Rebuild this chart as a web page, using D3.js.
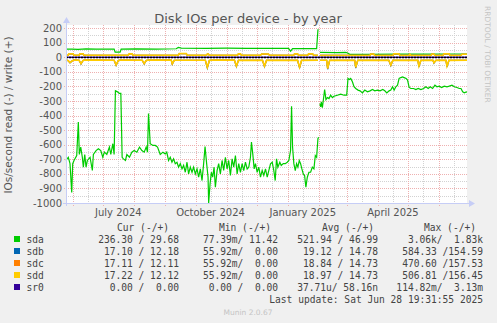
<!DOCTYPE html>
<html>
<head>
<meta charset="utf-8">
<script src="https://cdn.jsdelivr.net/npm/d3@7"></script>
<style>
  body { margin: 0; background: #f0f0f0; }
  svg { display: block; }
  text { font-family: "DejaVu Sans", sans-serif; fill: #555; }
  .mono { font-family: "DejaVu Sans Mono", monospace; white-space: pre; font-size: 9.6px; fill: #444; }
</style>
</head>
<body>
<div id="chart"></div>
<script>
// munin "by year" graph: 400 days ending at the last update
var lastUpdate = new Date(2025, 5, 28, 19, 31, 55);
var spanDays = 400;

var devices = ["sda", "sdb", "sdc", "sdd", "sr0"];
var colors = ["#00cc00", "#0066b3", "#ff8000", "#ffcc00", "#330099"];

// [day since start, IOs/s], null = no data
var sdaRead = [[0,-708],[2.3,-686],[4,-730],[5.7,-927],[6.7,-730],[8,-708],[10.7,-674],[12.3,-444],[13.3,-667],
  [14.7,-616],[16.3,-686],[17.3,-754],[18.7,-667],[20,-754],[21.3,-708],[24,-686],[26.3,-777],[27.3,-667],
  [30,-640],[32.3,-628],[34.7,-640],[36.7,-686],[38.3,-651],[40.7,-667],[43.3,-616],[44.7,-667],[46.7,-593],
  [48,-667],[49.3,-230],[51.3,-237],[53.3,-248],[54.7,-248],[56,-686],[57.3,-697],[59.3,-708],[60.7,-667],
  [63.3,-686],[65.7,-651],[68,-640],[70.7,-651],[73.3,-616],[75.7,-640],[78,-651],[80,-616],[81.3,-651],
  [82.3,-386],[84,-593],[86.7,-605],[89,-605],[91.3,-616],[94,-667],[96.7,-651],[99,-663],[100.5,-651],
  [102.3,-708],[104,-686],[105.7,-720],[107.3,-697],[109,-730],[110.7,-720],[112.3,-754],[114,-730],
  [115.7,-766],[117.3,-742],[119,-789],[120.7,-720],[122.3,-800],[124,-754],[125.7,-789],[127.3,-754],
  [129,-800],[130.7,-766],[132.3,-823],[134,-766],[135.7,-846],[137.3,-730],[138.7,-612],[140.3,-730],
  [141.7,-823],[142.3,-1000],[143.7,-869],[145,-789],[146.3,-823],[147.7,-754],[149,-892],[150.7,-777],
  [152.3,-730],[154,-800],[155.7,-708],[157.3,-777],[159,-686],[160.7,-766],[162.3,-708],[164,-811],
  [165.7,-697],[167.3,-754],[169,-674],[170.7,-800],[172.3,-730],[174,-789],[175.7,-730],[177.3,-777],
  [179,-720],[180.7,-766],[182.3,-754],[184,-686],[185,-582],[186.3,-663],[187.7,-766],[189,-730],
  [190.7,-789],[192.3,-754],[194,-823],[195.7,-777],[197.3,-811],[199,-766],[200.7,-823],[202.3,-777],
  [204,-731],[205.7,-720],[207.3,-777],[208.7,-846],[210,-697],[211.3,-754],[213.3,-720],[214.7,-742],
  [216.7,-730],[218.7,-730],[220.7,-720],[222.3,-708],[224,-640],[225,-336],[226,-616],[227.3,-730],
  [228.7,-777],[230,-730],[231.3,-754],[232.7,-708],[234,-730],[235.3,-766],[236.7,-800],[238,-811],
  [239.3,-892],[240.7,-823],[242.3,-789],[244,-789],[245.7,-754],[247.3,-766],[248.7,-674],[250,-686],
  [251.3,-559],[252,-548],[252.6,null],[253.3,-317],[254,-340],[254.7,-306],[255.7,-345],[256.7,-294],
  [258,-221],[259.3,-290],[260.7,-276],[262.3,-283],[264,-260],[265.7,-276],[267.3,-267],[270.7,-260],
  [274,-253],[277.3,-260],[280,-260],[281.3,-145],[282.7,-152],[284,-145],[285.7,-168],[287.3,-202],
  [289,-214],[291.3,-225],[293.3,-230],[295.7,-244],[298,-225],[300.7,-237],[303.3,-230],[305.7,-221],
  [308,-230],[310.7,-225],[313.3,-230],[316,-221],[318,-230],[320,-244],[322.3,-230],[324,-225],
  [325.7,-202],[327.3,-225],[329,-202],[330.7,-191],[332.3,-145],[334,-139],[335.7,-134],[337.3,-139],
  [339.3,-145],[340.7,-156],[342.3,-207],[344,-214],[346.7,-214],[349,-221],[351.3,-214],[354,-221],
  [356.7,-214],[359,-202],[361.3,-214],[363.3,-202],[365.7,-214],[368,-191],[370,-202],[372.3,-198],
  [374.7,-207],[377.3,-198],[380,-202],[382.3,-198],[385,-191],[387.3,-202],[390,-207],[392.3,-214],
  [394,-214],[395.7,-237],[397.3,-244],[399.3,-237],[400,-240]];
var sdaWrite = [[0,56],[6,57],[12,55],[20,58],[30,57],[40,56],[48,57],[49,36],[54,36],[55,56],[70,58],
  [90,57],[110,59],[112,68],[115,63],[140,62],[160,63],[180,62],[200,62],[222,61],[224,42],[226,60],
  [250,60],[251.3,188],[252,188],[252.6,null],[253.3,34],[270,33],[279,34],[281,30],[283,21],[300,21],
  [330,22],[360,22],[380,23],[400,23]];
var sdbRead = [[0,-18],[2,-22],[4,-38],[6,-25],[8,-18],[13,-20],[15,-46],[17,-22],[19,-18],[48,-20],
  [50,-56],[52,-24],[54,-19],[76,-20],[78,-46],[80,-22],[82,-19],[105,-19],[106,-48],[108,-20],[139,-20],
  [141,-74],[143,-22],[145,-19],[168,-19],[170,-64],[172,-21],[196,-20],[198,-65],[200,-21],[231,-20],
  [233,-74],[235,-21],[251.3,-20],[252.6,null],[253.3,-20],[260,-20],[261,-82],[263,-21],[288,-20],
  [289,-74],[291,-21],[322,-20],[324,-58],[326,-21],[351,-20],[352,-66],[354,-21],[366,-20],[367,-40],
  [369,-21],[379,-20],[380,-66],[382,-21],[400,-20]];
var sdbWrite = [[0,14],[2,14],[3,24],[7,24],[8,14],[13,14],[14,24],[17,24],[18,14],[62,14],[63,23],
  [66,23],[67,14],[112,14],[113,25],[120,25],[121,14],[140,14],[141,22],[142,22],[143,14],[171,14],
  [172,24],[174,24],[175,14],[194,14],[195,22],[202,22],[203,14],[227,14],[228,24],[231,24],[232,14],
  [241,14],[242,24],[246,24],[247,14],[251.3,14],[252.6,null],[253.3,13],[303,13],[304,22],[307,22],
  [308,13],[326,13],[327,24],[332,24],[333,13],[342,13],[343,20],[344,13],[364,13],[365,22],[367,22],
  [368,13],[376,13],[377,24],[382,24],[383,13],[394,13],[395,21],[400,21]];
var sdcRead = [[0,-18],[2,-22],[4,-36],[6,-25],[8,-18],[13,-20],[15,-44],[17,-22],[19,-18],[48,-20],
  [50,-54],[52,-24],[54,-19],[76,-20],[78,-44],[80,-22],[82,-19],[105,-19],[106,-46],[108,-20],[139,-20],
  [141,-70],[143,-22],[145,-19],[168,-19],[170,-62],[172,-21],[196,-20],[198,-62],[200,-21],[231,-20],
  [233,-70],[235,-21],[251.3,-20],[252.6,null],[253.3,-20],[260,-20],[261,-78],[263,-21],[288,-20],
  [289,-70],[291,-21],[322,-20],[324,-55],[326,-21],[351,-20],[352,-62],[354,-21],[366,-20],[367,-38],
  [369,-21],[379,-20],[380,-62],[382,-21],[400,-20]];
var sdcWrite = sdbWrite;
var sddRead = [[0,-18],[2,-22],[4,-35],[6,-25],[8,-18],[13,-20],[15,-42],[17,-22],[19,-18],[30,-19],
  [48,-20],[50,-52],[52,-24],[54,-19],[76,-20],[78,-42],[80,-22],[82,-19],[105,-19],[106,-44],[108,-20],
  [139,-20],[141,-68],[143,-22],[145,-19],[168,-19],[170,-60],[172,-21],[196,-20],[198,-60],[200,-21],
  [231,-20],[233,-68],[235,-21],[251.3,-20],[252.6,null],[253.3,-20],[260,-20],[261,-76],[263,-21],
  [288,-20],[289,-68],[291,-21],[322,-20],[324,-53],[326,-21],[351,-20],[352,-60],[354,-21],[366,-20],
  [367,-37],[369,-21],[379,-20],[380,-60],[382,-21],[400,-20]];
var sddWrite = [[0,14],[2,14],[3,25],[7,25],[8,14],[13,14],[14,25],[17,25],[18,14],[62,14],[63,24],
  [66,24],[67,14],[112,14],[113,26],[120,26],[121,14],[140,14],[141,23],[142,23],[143,14],[171,14],
  [172,25],[174,25],[175,14],[194,14],[195,23],[202,23],[203,14],[227,14],[228,25],[231,25],[232,14],
  [241,14],[242,25],[246,25],[247,14],[251.3,14],[252.6,null],[253.3,13],[303,13],[304,23],[307,23],
  [308,13],[326,13],[327,25],[332,25],[333,13],[342,13],[343,21],[344,13],[364,13],[365,23],[367,23],
  [368,13],[376,13],[377,25],[382,25],[383,13],[394,13],[395,21],[400,21]];
var sr0Read = [[0,0],[400,0]];
var sr0Write = [[0,0],[400,0]];

var yTicks = [200, 100, 0, -100, -200, -300, -400, -500, -600, -700, -800, -900, -1000];
var xLabels = ["July 2024", "October 2024", "January 2025", "April 2025"];
var xLabelDates = [new Date(2024, 6, 16), new Date(2024, 9, 16), new Date(2025, 0, 16), new Date(2025, 3, 16)];

var legendHead = ["Cur (-/+)", "Min (-/+)", "Avg (-/+)", "Max (-/+)"];
var legendCur = ["236.30 / 29.68", "17.10 / 12.18", "17.11 / 12.11", "17.22 / 12.12", "0.00 /  0.00"];
var legendMin = ["77.39m/ 11.42", "55.92m/  0.00", "55.92m/  0.00", "55.92m/  0.00", "0.00 /  0.00"];
var legendAvg = ["521.94 / 46.99", "19.12 / 14.78", "18.84 / 14.73", "18.97 / 14.73", "37.71u/ 58.16n"];
var legendMax = ["3.06k/  1.83k", "584.33 /154.59", "470.60 /157.53", "506.81 /156.45", "114.82m/  3.13m"];

var W = 497, H = 323;
var svg = d3.select("#chart").append("svg").attr("width", W).attr("height", H);

var start = d3.timeDay.offset(lastUpdate, -spanDays);
var x = d3.scaleTime().domain([start, lastUpdate]).range([66, 467]);
var y = d3.scaleLinear().domain([-1000, 222]).range([203, 25]);
function dayToDate(d) { return new Date(start.getTime() + d * 864e5); }

// canvas
svg.append("rect").attr("x", 66).attr("y", 25).attr("width", 401).attr("height", 178).attr("fill", "#fff");

// grid
var minorY = d3.range(-950, 222, 100);
svg.selectAll(".gy").data(minorY).enter().append("line")
  .attr("x1", 66).attr("x2", 467).attr("y1", d => Math.round(y(d)) + 0.5).attr("y2", d => Math.round(y(d)) + 0.5)
  .attr("stroke", "#d2d2d2").attr("stroke-dasharray", "1,1");
var midMonths = d3.timeMonth.range(d3.timeMonth.floor(start), lastUpdate).map(m => d3.timeDay.offset(m, 15)).filter(d => d > start && d < lastUpdate);
svg.selectAll(".gx").data(midMonths).enter().append("line")
  .attr("x1", d => Math.round(x(d)) + 0.5).attr("x2", d => Math.round(x(d)) + 0.5).attr("y1", 25).attr("y2", 203)
  .attr("stroke", "#d2d2d2").attr("stroke-dasharray", "1,1");
svg.selectAll(".my").data(yTicks).enter().append("line")
  .attr("x1", 64).attr("x2", 467).attr("y1", d => Math.round(y(d)) + 0.5).attr("y2", d => Math.round(y(d)) + 0.5)
  .attr("stroke", "#eeb0b0").attr("stroke-dasharray", "1,1");
var months = d3.timeMonth.range(start, lastUpdate);
svg.selectAll(".mx").data(months).enter().append("line")
  .attr("x1", d => Math.round(x(d)) + 0.5).attr("x2", d => Math.round(x(d)) + 0.5).attr("y1", 25).attr("y2", 206)
  .attr("stroke", "#eeb0b0").attr("stroke-dasharray", "1,1");

// series
var line = d3.line().defined(d => d[1] != null).x(d => x(dayToDate(d[0]))).y(d => y(d[1]));
var series = [sdaRead, sdaWrite, sdbRead, sdbWrite, sdcRead, sdcWrite, sddRead, sddWrite, sr0Read, sr0Write];
series.forEach(function(s, i) {
  svg.append("path").attr("d", line(s)).attr("fill", "none")
    .attr("stroke", colors[Math.floor(i / 2)]).attr("stroke-width", i >= 6 && i < 8 ? 1.6 : 1.2);
});
svg.append("line").attr("x1", 66).attr("x2", 467).attr("y1", Math.round(y(0)) + 0.5).attr("y2", Math.round(y(0)) + 0.5)
  .attr("stroke", "#000").attr("stroke-width", 1.5).attr("stroke-dasharray", "2,1");

// axes
var axisColor = "#c6cdf6";
svg.append("line").attr("x1", 66.5).attr("x2", 66.5).attr("y1", 206).attr("y2", 22).attr("stroke", axisColor);
svg.append("path").attr("d", "M63,23 L70,23 L66.5,17 Z").attr("fill", axisColor);
svg.append("line").attr("x1", 63).attr("x2", 470).attr("y1", 203.5).attr("y2", 203.5).attr("stroke", axisColor);
svg.append("path").attr("d", "M469,200 L469,207 L475,203.5 Z").attr("fill", axisColor);

svg.selectAll(".yl").data(yTicks).enter().append("text")
  .attr("x", 62).attr("y", d => y(d) + 3.5).attr("text-anchor", "end").attr("font-size", "10px").text(d => d);
svg.selectAll(".xl").data(xLabels).enter().append("text")
  .attr("x", (d, i) => x(xLabelDates[i])).attr("y", 216).attr("text-anchor", "middle").attr("font-size", "10px").text(d => d);

// title and side texts
svg.append("text").attr("x", 248).attr("y", 23).attr("text-anchor", "middle").attr("font-size", "13px").text("Disk IOs per device - by year");
svg.append("text").attr("transform", "translate(12,115) rotate(-90)").attr("text-anchor", "middle")
  .attr("font-size", "10.5px").text("IOs/second read (-) / write (+)");
svg.append("text").attr("transform", "translate(485,6) rotate(90)").attr("font-size", "7.5px")
  .style("fill", "#c4c4c4").text("RRDTOOL / TOBI OETIKER");

// legend
var colRight = [179, 278, 378, 483];
var headRight = [169, 271, 374, 476];
var cols = [legendCur, legendMin, legendAvg, legendMax];
legendHead.forEach(function(h, j) {
  svg.append("text").attr("class", "mono").attr("x", headRight[j]).attr("y", 231).attr("text-anchor", "end").text(h);
});
devices.forEach(function(dev, i) {
  var yy = 243 + i * 12;
  svg.append("rect").attr("x", 14).attr("y", yy - 7).attr("width", 6).attr("height", 6).attr("fill", colors[i]);
  svg.append("text").attr("class", "mono").attr("x", 26.5).attr("y", yy).text(dev);
  cols.forEach(function(c, j) {
    svg.append("text").attr("class", "mono").attr("x", colRight[j]).attr("y", yy).attr("text-anchor", "end").text(c[i]);
  });
});
svg.append("text").attr("class", "mono").attr("x", 483).attr("y", 303).attr("text-anchor", "end")
  .text("Last update: Sat Jun 28 19:31:55 2025");
svg.append("text").attr("x", 248).attr("y", 315).attr("text-anchor", "middle").attr("font-size", "7.5px")
  .style("fill", "#c4c4c4").text("Munin 2.0.67");
</script>
</body>
</html>
